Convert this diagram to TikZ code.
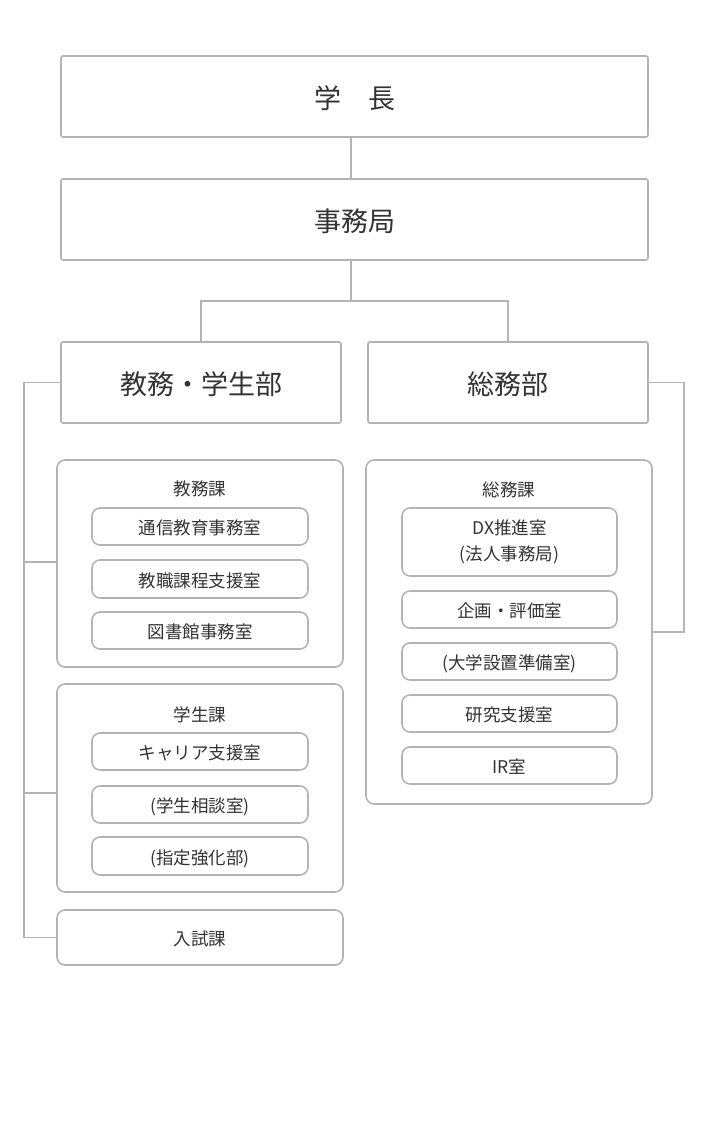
\documentclass[tikz,border=0pt]{standalone}
\usepackage{fontspec}
\setmainfont{Noto Sans CJK JP}
\definecolor{linec}{RGB}{180,180,180}
\definecolor{txt}{RGB}{51,51,51}
\begin{document}
\begin{tikzpicture}[x=1pt,y=-1pt,
  topbox/.style={draw=linec,line width=1.6pt,rounded corners=2pt,inner sep=0pt,text=txt,
    font=\fontsize{27}{32}\selectfont,text height=24.5pt,text depth=0pt},
  grp/.style={draw=linec,line width=1.6pt,rounded corners=8pt,inner sep=0pt},
  subbox/.style={draw=linec,line width=1.6pt,rounded corners=8pt,inner sep=0pt,text=txt,
    minimum width=216pt,font=\fontsize{17.5}{26}\selectfont,align=center},
  oneline/.style={text height=16.3pt,text depth=0pt},
  ttl/.style={text=txt,inner sep=0pt,font=\fontsize{17.5}{21}\selectfont,oneline},
  conn/.style={draw=linec,line width=1.6pt}]
\useasboundingbox (0,0) rectangle (708,1124);
\fill[white] (0,0) rectangle (708,1124);
% top
\node[topbox,minimum width=587pt,minimum height=81pt] (gak) at (354.5,96.5) {学　長};
\node[topbox,minimum width=587pt,minimum height=81pt] (jim) at (354.5,219.5) {事務局};
\node[topbox,minimum width=280pt,minimum height=81pt] (kg) at (201,382.5) {教務・学生部};
\node[topbox,minimum width=280pt,minimum height=81pt] (sb) at (508,382.5) {総務部};
% left groups
\node[grp,minimum width=286pt,minimum height=207pt] (kyk) at (200,563.5) {};
\node[ttl] (kykt) at (200,487) {教務課};
\node[subbox,oneline,minimum height=37pt] (k1) at (200,526.5) {通信教育事務室};
\node[subbox,oneline,minimum height=38pt] (k2) at (200,579) {教職課程支援室};
\node[subbox,oneline,minimum height=37pt] (k3) at (200,630.5) {図書館事務室};
\node[grp,minimum width=286pt,minimum height=208pt] (gsk) at (200,788) {};
\node[ttl] (gskt) at (200,713) {学生課};
\node[subbox,oneline,minimum height=37pt] (g1) at (200,751.5) {キャリア支援室};
\node[subbox,oneline,minimum height=37pt] (g2) at (200,804.5) {(学生相談室)};
\node[subbox,oneline,minimum height=38pt] (g3) at (200,856) {(指定強化部)};
\node[grp,oneline,minimum width=286pt,minimum height=55pt,text=txt,font=\fontsize{17.5}{21}\selectfont] (nyu) at (200,937.5) {入試課};
% right group
\node[grp,minimum width=286pt,minimum height=344pt] (smk) at (509,632) {};
\node[ttl] (smkt) at (509,488) {総務課};
\node[subbox,minimum width=215pt,minimum height=68pt] (s1) at (509.5,542) {DX推進室\\(法人事務局)};
\node[subbox,oneline,minimum width=215pt,minimum height=37pt] (s2) at (509.5,609.5) {企画・評価室};
\node[subbox,oneline,minimum width=215pt,minimum height=37pt] (s3) at (509.5,661.5) {(大学設置準備室)};
\node[subbox,oneline,minimum width=215pt,minimum height=37pt] (s4) at (509.5,713.5) {研究支援室};
\node[subbox,oneline,minimum width=215pt,minimum height=37pt] (s5) at (509.5,765.5) {IR室};
% connectors
\coordinate (mid) at (351,301);
\draw[conn] ([xshift=-3.5pt]gak.south) -- ([xshift=-3.5pt]jim.north);
\draw[conn] ([xshift=-3.5pt]jim.south) -- (mid);
\draw[conn] (kg.north) |- (mid) -| (sb.north);
\coordinate (lx) at (24,0);
\draw[conn] (kg.west) -| (lx |- nyu.west) -- (nyu.west);
\draw[conn] (lx |- 0,562) -- (kyk.west |- 0,562);
\draw[conn] (lx |- 0,793) -- (gsk.west |- 0,793);
\coordinate (rx) at (684,0);
\draw[conn] (sb.east) -| (rx |- smk.east) -- (smk.east);
\end{tikzpicture}
\end{document}
